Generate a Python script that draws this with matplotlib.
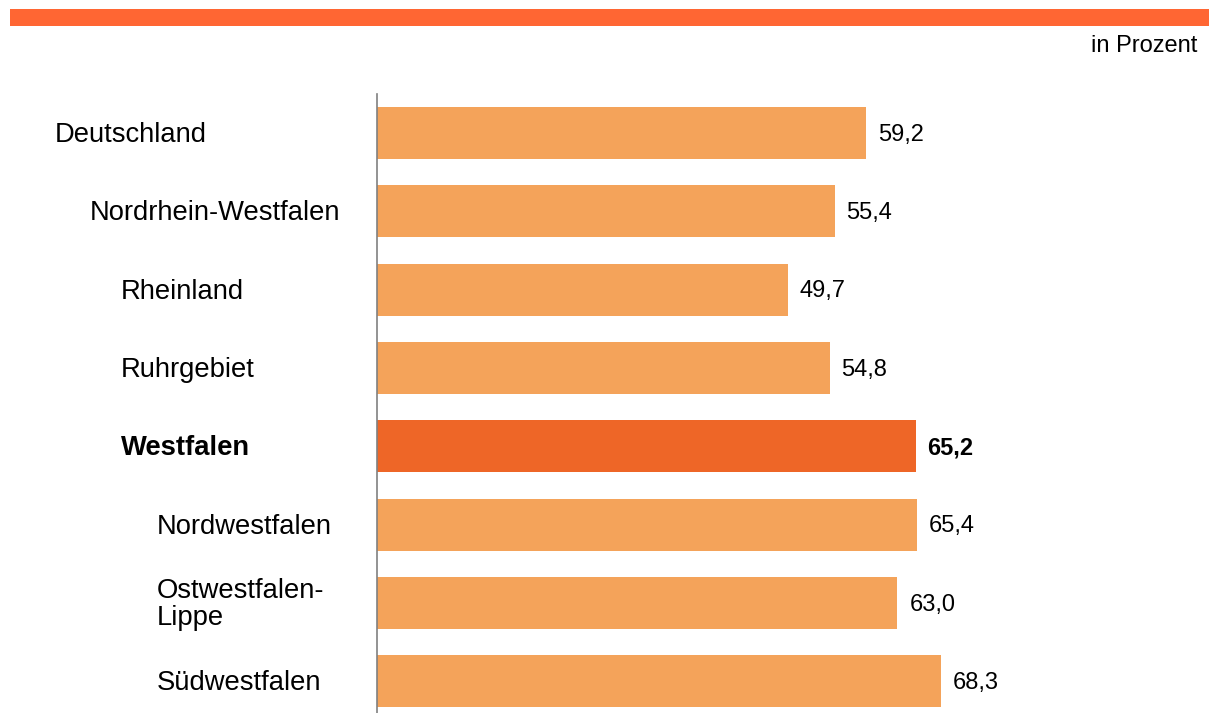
import matplotlib
matplotlib.use("Agg")
import matplotlib.pyplot as plt
from matplotlib.transforms import blended_transform_factory, offset_copy
from matplotlib.patches import Rectangle

plt.rcParams['font.family'] = ['Liberation Sans', 'DejaVu Sans']

categories = ["Deutschland", "Nordrhein-Westfalen", "Rheinland", "Ruhrgebiet",
              "Westfalen", "Nordwestfalen", "Ostwestfalen-\nLippe", "Südwestfalen"]
values = [59.2, 55.4, 49.7, 54.8, 65.2, 65.4, 63.0, 68.3]
value_labels = ["59,2", "55,4", "49,7", "54,8", "65,2", "65,4", "63,0", "68,3"]
indent_px = [56, 91, 122, 122, 122, 158, 158, 158]
highlight = "Westfalen"
unit_label = "in Prozent"

W, H = 1209, 713
fig = plt.figure(figsize=(W / 100, H / 100), dpi=100)
fig.patch.set_facecolor("white")

# top decorative bar
fig.patches.append(Rectangle((10 / W, 1 - 26 / H), (W - 10) / W, 17 / H,
                             transform=fig.transFigure, facecolor="#FF6633",
                             edgecolor="none"))
fig.text(1197 / W, 1 - 46 / H, unit_label, ha="right", va="center",
         fontsize=17, color="black")

ax_left, ax_top, ax_bottom = 377, 94, 713
ax = fig.add_axes([ax_left / W, 0, (W - ax_left) / W, (ax_bottom - ax_top) / H])
px_per_unit = 8.26
ax.set_xlim(0, (W - ax_left) / px_per_unit)
spacing = 78.3
ax.set_ylim(-0.5 + (ax_bottom - ax_top) / spacing, -0.5)

pos = list(range(len(categories)))
colors = ["#EE6627" if c == highlight else "#F4A35A" for c in categories]
ax.barh(pos, values, height=52 / spacing, color=colors, edgecolor="none")

for sp in ["top", "right", "bottom"]:
    ax.spines[sp].set_visible(False)
ax.spines["left"].set_color("#808080")
ax.spines["left"].set_linewidth(1.2)
ax.set_xticks([])
ax.set_yticks([])

trans = blended_transform_factory(fig.transFigure, ax.transData)
trans = offset_copy(trans, fig=fig, x=0, y=-2, units="dots")
for p, c, v, lab, ind in zip(pos, categories, values, value_labels, indent_px):
    bold = c == highlight
    fig.text(ind / W - 0.001, p, c, transform=trans, ha="left", va="center",
             fontsize=19.7, fontweight="bold" if bold else "normal",
             linespacing=1.05)
    ax.annotate(lab, xy=(v, p), xytext=(8.6, -1.2), textcoords="offset points",
                ha="left", va="center", fontsize=17,
                fontweight="bold" if bold else "normal")

fig.savefig("out.png", dpi=100)
